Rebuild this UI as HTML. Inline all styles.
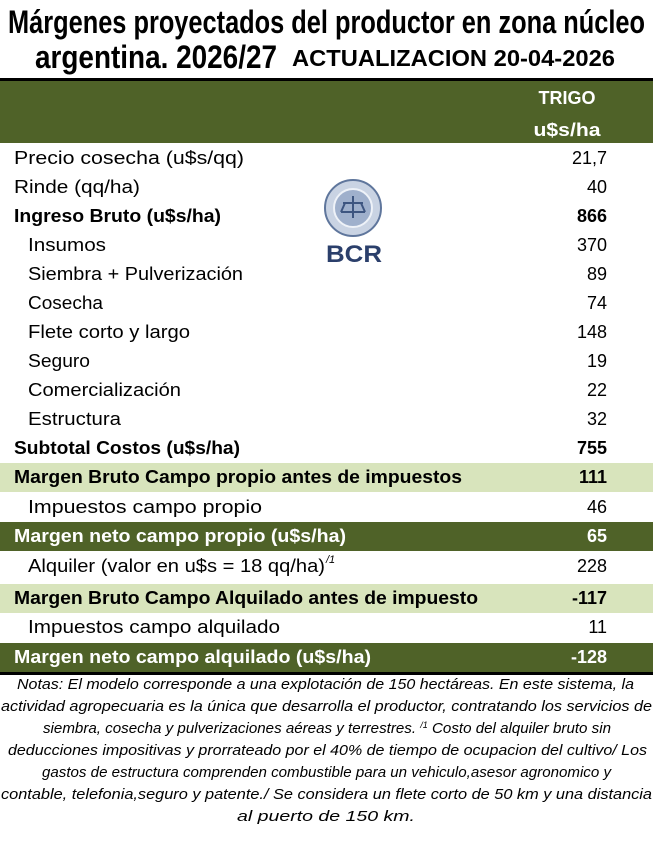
<!DOCTYPE html>
<html><head><meta charset="utf-8"><style>
html,body{margin:0;padding:0;background:#fff;}
svg{display:block;}
text{font-family:"Liberation Sans",sans-serif;}
.l{font-size:18px;fill:#000;}
.b{font-weight:bold;}
.w{fill:#fff;}
.n{font-size:15px;font-style:italic;}
</style></head><body>
<svg width="653" height="843" viewBox="0 0 653 843" xmlns="http://www.w3.org/2000/svg">
<rect width="653" height="843" fill="#fff"/>
<text x="8" y="33" font-size="32" font-weight="bold" textLength="637" lengthAdjust="spacingAndGlyphs">Márgenes  proyectados del productor en zona núcleo</text>
<text x="35" y="68" font-size="32" font-weight="bold" textLength="242" lengthAdjust="spacingAndGlyphs">argentina. 2026/27</text>
<text x="292" y="66" font-size="23" font-weight="bold" textLength="323" lengthAdjust="spacingAndGlyphs">ACTUALIZACION 20-04-2026</text>
<rect x="0" y="78" width="653" height="3" fill="#000"/>
<rect x="0" y="81" width="653" height="62" fill="#4f6228"/>
<text x="567" y="104" class="l b w" text-anchor="middle" font-size="20" textLength="57" lengthAdjust="spacingAndGlyphs">TRIGO</text>
<text x="567" y="136" class="l b w" text-anchor="middle" font-size="20" textLength="67" lengthAdjust="spacingAndGlyphs">u$s/ha</text>
<rect x="0" y="463" width="653" height="29" fill="#d8e4bc"/>
<rect x="0" y="522" width="653" height="29" fill="#4f6228"/>
<rect x="0" y="584" width="653" height="29" fill="#d8e4bc"/>
<rect x="0" y="643" width="653" height="29" fill="#4f6228"/>
<rect x="0" y="672" width="653" height="3" fill="#000"/>
<circle cx="353" cy="208" r="28" fill="#c9d3e3" stroke="#5f769c" stroke-width="2"/>
<circle cx="353" cy="208" r="19" fill="#9fb0cc" stroke="#eef2f8" stroke-width="2"/>
<path d="M341 212h24M345 203l-4 9M361 203l4 9M353 196v22M343 203h20" stroke="#3d5580" stroke-width="2" fill="none"/>
<text x="354" y="262" text-anchor="middle" font-family="Liberation Serif,serif" font-weight="bold" font-size="24" fill="#2b3f6b" textLength="56" lengthAdjust="spacingAndGlyphs">BCR</text>
<g class="l">
<text x="14" y="164" textLength="230" lengthAdjust="spacingAndGlyphs">Precio cosecha (u$s/qq)</text>
<text x="607" y="164" text-anchor="end">21,7</text>
<text x="14" y="193" textLength="126" lengthAdjust="spacingAndGlyphs">Rinde (qq/ha)</text>
<text x="607" y="193" text-anchor="end">40</text>
<text x="14" y="222" class="b" textLength="207" lengthAdjust="spacingAndGlyphs">Ingreso Bruto (u$s/ha)</text>
<text x="607" y="222" class="b" text-anchor="end">866</text>
<text x="28" y="251" textLength="78" lengthAdjust="spacingAndGlyphs">Insumos</text>
<text x="607" y="251" text-anchor="end">370</text>
<text x="28" y="280" textLength="215" lengthAdjust="spacingAndGlyphs">Siembra + Pulverización</text>
<text x="607" y="280" text-anchor="end">89</text>
<text x="28" y="309" textLength="75" lengthAdjust="spacingAndGlyphs">Cosecha</text>
<text x="607" y="309" text-anchor="end">74</text>
<text x="28" y="338" textLength="162" lengthAdjust="spacingAndGlyphs">Flete corto y largo</text>
<text x="607" y="338" text-anchor="end">148</text>
<text x="28" y="367" textLength="62" lengthAdjust="spacingAndGlyphs">Seguro</text>
<text x="607" y="367" text-anchor="end">19</text>
<text x="28" y="396" textLength="153" lengthAdjust="spacingAndGlyphs">Comercialización</text>
<text x="607" y="396" text-anchor="end">22</text>
<text x="28" y="425" textLength="93" lengthAdjust="spacingAndGlyphs">Estructura</text>
<text x="607" y="425" text-anchor="end">32</text>
<text x="14" y="454" class="b" textLength="226" lengthAdjust="spacingAndGlyphs">Subtotal Costos (u$s/ha)</text>
<text x="607" y="454" class="b" text-anchor="end">755</text>
<text x="14" y="483" class="b" textLength="448" lengthAdjust="spacingAndGlyphs">Margen Bruto Campo propio antes de impuestos</text>
<text x="607" y="483" class="b" text-anchor="end">111</text>
<text x="28" y="513" textLength="234" lengthAdjust="spacingAndGlyphs">Impuestos  campo propio</text>
<text x="607" y="513" text-anchor="end">46</text>
<text x="14" y="542" class="b w" textLength="332" lengthAdjust="spacingAndGlyphs">Margen neto campo propio (u$s/ha)</text>
<text x="607" y="542" class="b w" text-anchor="end">65</text>
<text x="28" y="572" textLength="297" lengthAdjust="spacingAndGlyphs">Alquiler (valor en u$s = 18 qq/ha)</text>
<text x="326" y="563" font-size="11" font-style="italic">/1</text>
<text x="607" y="572" text-anchor="end">228</text>
<text x="14" y="604" class="b" textLength="464" lengthAdjust="spacingAndGlyphs">Margen Bruto Campo Alquilado antes de impuesto</text>
<text x="607" y="604" class="b" text-anchor="end">-117</text>
<text x="28" y="633" textLength="252" lengthAdjust="spacingAndGlyphs">Impuestos campo alquilado</text>
<text x="607" y="633" text-anchor="end">11</text>
<text x="14" y="663" class="b w" textLength="357" lengthAdjust="spacingAndGlyphs">Margen neto campo alquilado (u$s/ha)</text>
<text x="607" y="663" class="b w" text-anchor="end">-128</text>
</g>
<g class="n">
<text x="17" y="689" textLength="617" lengthAdjust="spacingAndGlyphs">Notas: El modelo corresponde a una explotación de 150 hectáreas. En este sistema, la</text>
<text x="1" y="711" textLength="651" lengthAdjust="spacingAndGlyphs">actividad agropecuaria es la única que desarrolla el productor, contratando los servicios de</text>
<text x="43" y="733" textLength="568" lengthAdjust="spacingAndGlyphs">siembra, cosecha y pulverizaciones aéreas y terrestres.  <tspan font-size="9" dy="-5">/1</tspan><tspan dy="5"> Costo del alquiler bruto sin</tspan></text>
<text x="8" y="755" textLength="639" lengthAdjust="spacingAndGlyphs">deducciones impositivas y prorrateado por el 40% de tiempo de ocupacion del cultivo/ Los</text>
<text x="42" y="777" textLength="569" lengthAdjust="spacingAndGlyphs">gastos de estructura comprenden combustible para un vehiculo,asesor agronomico y</text>
<text x="1" y="799" textLength="651" lengthAdjust="spacingAndGlyphs">contable, telefonia,seguro y patente./ Se considera un flete corto de 50 km y una distancia</text>
<text x="237" y="821" textLength="178" lengthAdjust="spacingAndGlyphs">al puerto de 150 km.</text>
</g>
</svg>
</body></html>
